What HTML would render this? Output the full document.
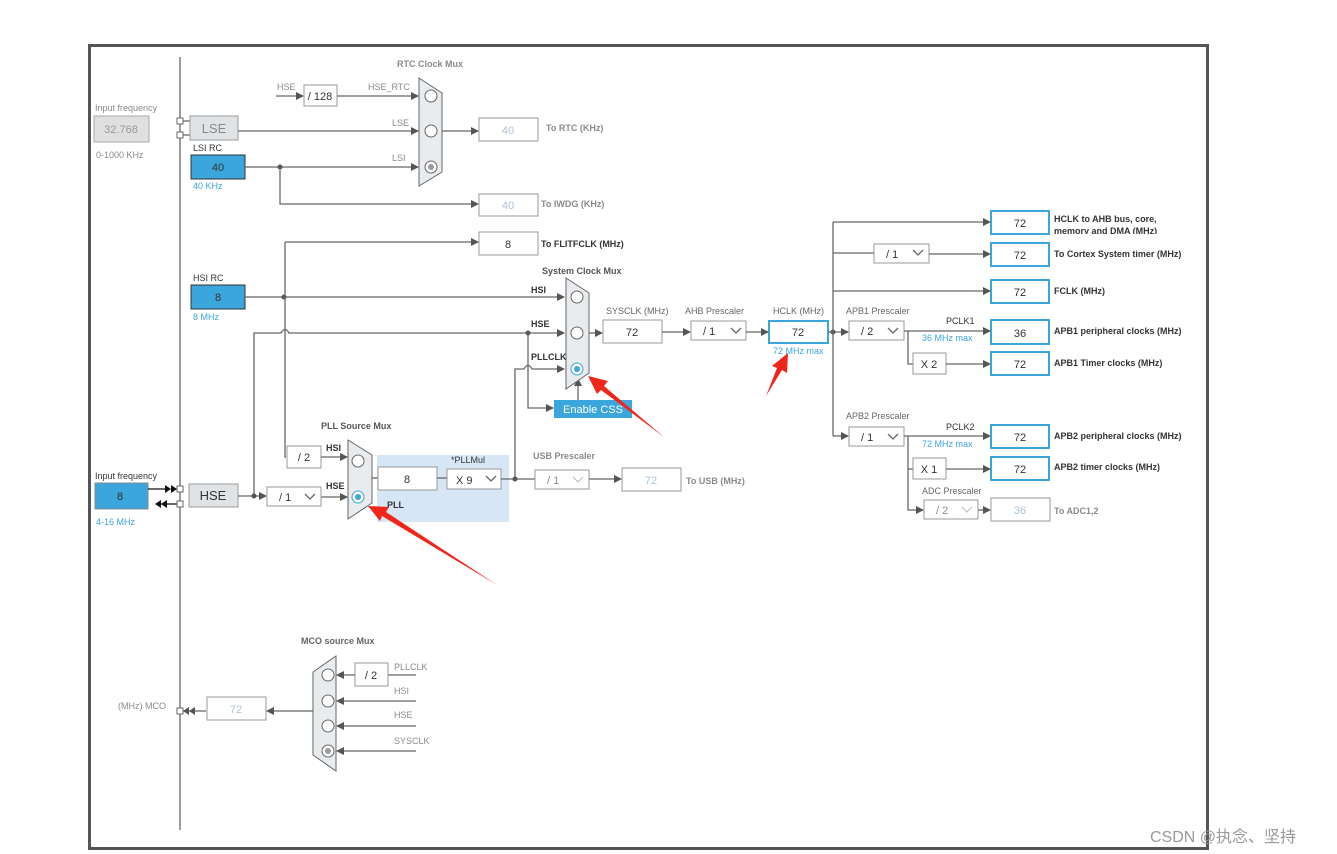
<!DOCTYPE html>
<html><head><meta charset="utf-8"><style>
html,body{margin:0;padding:0;background:#fff;}
svg{display:block;font-family:"Liberation Sans","Noto Sans CJK SC",sans-serif;}
.l{stroke:#666;stroke-width:1.3;fill:none}
.g{font-size:9px;fill:#8a8a8a}
.d{font-size:9px;fill:#333}
.b{font-size:9px;fill:#333;font-weight:bold}
.bl{font-size:9px;fill:#3aa6dc}
.box{fill:#fff;stroke:#999;stroke-width:1}
.hb{fill:#fff;stroke:#3aa6dc;stroke-width:2}
.v{font-size:11px;fill:#333;text-anchor:middle}
.vl{font-size:11px;fill:#a9c3dc;text-anchor:middle}
.mux{fill:#e8ecef;stroke:#666;stroke-width:1}
.c{fill:#fff;stroke:#666;stroke-width:1}
</style></head><body>
<svg width="1337" height="854" viewBox="0 0 1337 854">
<defs>
<marker id="a" markerWidth="8" markerHeight="8" refX="7" refY="4" orient="auto" markerUnits="userSpaceOnUse"><path d="M0,0 L8,4 L0,8 z" fill="#555"/></marker>
<clipPath id="cl"><rect x="1050" y="205" width="200" height="29"/></clipPath>
</defs>
<rect x="89.5" y="45.5" width="1118" height="803" fill="none" stroke="#555" stroke-width="3"/>
<line x1="180" y1="57" x2="180" y2="830" stroke="#666" stroke-width="1.3"/>

<text x="95" y="111" class="g">Input frequency</text>
<rect x="94" y="116" width="55" height="26" fill="#e0e0e0" stroke="#aaa"/>
<text x="121" y="133" class="v" style="fill:#999">32.768</text>
<text x="96" y="158" class="g">0-1000 KHz</text>
<rect x="177" y="118" width="6" height="6" fill="#fff" stroke="#666"/>
<rect x="177" y="132" width="6" height="6" fill="#fff" stroke="#666"/>
<line x1="183" y1="121" x2="190" y2="121" class="l"/><line x1="183" y1="135" x2="190" y2="135" class="l"/>
<rect x="190" y="116" width="48" height="24" fill="#e0e3e6" stroke="#999"/>
<text x="214" y="133" class="v" style="font-size:13px;fill:#888">LSE</text>
<text x="193" y="151" class="d">LSI RC</text>
<rect x="191" y="155" width="54" height="24" fill="#3aa6dc" stroke="#333"/>
<text x="218" y="171" class="v">40</text>
<text x="193" y="189" class="bl">40 KHz</text>

<text x="397" y="67" class="g" style="font-weight:bold">RTC Clock Mux</text>
<text x="277" y="90" class="g">HSE</text>
<line x1="276" y1="96" x2="303" y2="96" class="l" marker-end="url(#a)"/>
<rect x="304" y="85" width="33" height="21" class="box"/>
<text x="320" y="100" class="v">/ 128</text>
<text x="368" y="90" class="g">HSE_RTC</text>
<line x1="337" y1="96" x2="418" y2="96" class="l" marker-end="url(#a)"/>
<text x="392" y="126" class="g">LSE</text>
<line x1="238" y1="131" x2="418" y2="131" class="l" marker-end="url(#a)"/>
<text x="392" y="161" class="g">LSI</text>
<line x1="245" y1="167" x2="418" y2="167" class="l" marker-end="url(#a)"/>
<circle cx="280" cy="167" r="2.5" fill="#555"/>
<polyline points="280,167 280,204 478,204" class="l" marker-end="url(#a)"/>
<polygon points="419,78 442,93 442,172 419,186" class="mux"/>
<circle cx="431" cy="96" r="6" class="c"/><circle cx="431" cy="131" r="6" class="c"/><circle cx="431" cy="167" r="6" class="c"/><circle cx="431" cy="167" r="3" fill="#999"/>
<line x1="442" y1="131" x2="478" y2="131" class="l" marker-end="url(#a)"/>
<rect x="479" y="118" width="59" height="23" class="box"/><text x="508" y="134" class="vl">40</text>
<text x="546" y="131" class="g" style="font-weight:bold">To RTC (KHz)</text>
<rect x="479" y="194" width="59" height="22" class="box"/><text x="508" y="209" class="vl">40</text>
<text x="541" y="207" class="g" style="font-weight:bold">To IWDG (KHz)</text>
<rect x="479" y="232" width="59" height="23" class="box"/><text x="508" y="248" class="v">8</text>
<text x="541" y="247" class="b">To FLITFCLK (MHz)</text>
<line x1="285" y1="242" x2="478" y2="242" class="l" marker-end="url(#a)"/>

<text x="193" y="281" class="d">HSI RC</text>
<rect x="191" y="285" width="54" height="24" fill="#3aa6dc" stroke="#333"/>
<text x="218" y="301" class="v">8</text>
<text x="193" y="320" class="bl">8 MHz</text>
<line x1="245" y1="297" x2="564" y2="297" class="l" marker-end="url(#a)"/>
<circle cx="284" cy="297" r="2.5" fill="#555"/>
<path d="M285,242 L285,457 L286,457" class="l"/>
<text x="531" y="293" class="b">HSI</text>
<path d="M254,496 L254,333 L281,333 Q285,326 289,333 L564,333" class="l" marker-end="url(#a)"/>
<circle cx="528" cy="333" r="2.5" fill="#555"/>
<text x="531" y="327" class="b">HSE</text>
<path d="M515,478 L515,369 L524,369 Q528,362 532,369 L564,369" class="l" marker-end="url(#a)"/>
<text x="531" y="360" class="b">PLLCLK</text>
<polyline points="528,333 528,408 553,408" class="l" marker-end="url(#a)"/>
<rect x="554" y="400" width="78" height="18" fill="#3aa6dc"/>
<text x="593" y="413" style="font-size:11px;fill:#fff;text-anchor:middle">Enable CSS</text>
<line x1="578" y1="400" x2="578" y2="379" class="l" marker-end="url(#a)"/>
<text x="542" y="274" class="b" style="fill:#555">System Clock Mux</text>
<polygon points="566,278 589,293 589,373 566,389" class="mux"/>
<circle cx="577" cy="297" r="6" class="c"/><circle cx="577" cy="333" r="6" class="c"/>
<circle cx="577" cy="369" r="6" fill="#fff" stroke="#3aa6dc"/><circle cx="577" cy="369" r="3" fill="#3aa6dc"/>
<line x1="589" y1="333" x2="602" y2="333" class="l" marker-end="url(#a)"/>
<text x="606" y="314" class="g" style="fill:#666">SYSCLK (MHz)</text>
<rect x="603" y="320" width="59" height="23" class="box"/><text x="632" y="336" class="v">72</text>
<line x1="662" y1="332" x2="690" y2="332" class="l" marker-end="url(#a)"/>
<text x="685" y="314" class="g" style="fill:#666">AHB Prescaler</text>
<rect x="691" y="321" width="55" height="19" class="box"/><text x="703" y="335" class="d" style="font-size:11px">/ 1</text>
<path d="M731,328 l5,5 l5,-5" class="l"/>
<line x1="746" y1="332" x2="768" y2="332" class="l" marker-end="url(#a)"/>
<text x="773" y="314" class="g" style="fill:#666">HCLK (MHz)</text>
<rect x="769" y="321" width="59" height="22" class="hb"/><text x="798" y="336" class="v">72</text>
<text x="773" y="354" class="bl">72 MHz max</text>

<line x1="828" y1="332" x2="848" y2="332" class="l" marker-end="url(#a)"/>
<circle cx="833" cy="332" r="2.5" fill="#555"/>
<line x1="833" y1="222" x2="833" y2="436" class="l"/>
<line x1="833" y1="222" x2="990" y2="222" class="l" marker-end="url(#a)"/>
<line x1="833" y1="253" x2="874" y2="253" class="l"/>
<rect x="874" y="244" width="55" height="19" class="box"/><text x="886" y="258" class="d" style="font-size:11px">/ 1</text>
<path d="M913,250 l5,5 l5,-5" class="l"/>
<line x1="929" y1="254" x2="990" y2="254" class="l" marker-end="url(#a)"/>
<line x1="833" y1="291" x2="990" y2="291" class="l" marker-end="url(#a)"/>
<line x1="833" y1="436" x2="848" y2="436" class="l" marker-end="url(#a)"/>
<text x="846" y="314" class="g" style="fill:#666">APB1 Prescaler</text>
<rect x="849" y="321" width="55" height="19" class="box"/><text x="861" y="335" class="d" style="font-size:11px">/ 2</text>
<path d="M888,328 l5,5 l5,-5" class="l"/>
<line x1="904" y1="331" x2="990" y2="331" class="l" marker-end="url(#a)"/>
<text x="946" y="324" class="d">PCLK1</text>
<text x="922" y="341" class="bl">36 MHz max</text>
<polyline points="908,331 908,364 913,364" class="l"/>
<rect x="913" y="353" width="33" height="21" class="box"/><text x="929" y="368" class="v">X 2</text>
<line x1="946" y1="364" x2="990" y2="364" class="l" marker-end="url(#a)"/>
<text x="846" y="419" class="g" style="fill:#666">APB2 Prescaler</text>
<rect x="849" y="427" width="55" height="19" class="box"/><text x="861" y="441" class="d" style="font-size:11px">/ 1</text>
<path d="M888,434 l5,5 l5,-5" class="l"/>
<line x1="904" y1="436" x2="990" y2="436" class="l" marker-end="url(#a)"/>
<text x="946" y="430" class="d">PCLK2</text>
<text x="922" y="447" class="bl">72 MHz max</text>
<polyline points="908,436 908,510 923,510" class="l" marker-end="url(#a)"/>
<line x1="908" y1="469" x2="913" y2="469" class="l"/>
<rect x="913" y="458" width="33" height="21" class="box"/><text x="929" y="473" class="v">X 1</text>
<line x1="946" y1="469" x2="990" y2="469" class="l" marker-end="url(#a)"/>
<text x="922" y="494" class="g" style="fill:#666">ADC Prescaler</text>
<rect x="924" y="500" width="54" height="19" class="box"/><text x="936" y="514" class="g" style="font-size:11px">/ 2</text>
<path d="M962,507 l5,5 l5,-5" fill="none" stroke="#bbb"/>
<line x1="978" y1="510" x2="990" y2="510" class="l" marker-end="url(#a)"/>

<rect x="991" y="211" width="58" height="23" class="hb"/><text x="1020" y="227" class="v">72</text>
<rect x="991" y="243" width="58" height="23" class="hb"/><text x="1020" y="259" class="v">72</text>
<rect x="991" y="280" width="58" height="23" class="hb"/><text x="1020" y="296" class="v">72</text>
<rect x="991" y="320" width="58" height="24" class="hb"/><text x="1020" y="337" class="v">36</text>
<rect x="991" y="352" width="58" height="23" class="hb"/><text x="1020" y="368" class="v">72</text>
<rect x="991" y="425" width="58" height="23" class="hb"/><text x="1020" y="441" class="v">72</text>
<rect x="991" y="457" width="58" height="23" class="hb"/><text x="1020" y="473" class="v">72</text>
<rect x="991" y="498" width="59" height="23" class="box"/><text x="1020" y="514" class="vl">36</text>
<text x="1054" y="222" class="b">HCLK to AHB bus, core,</text>
<text x="1054" y="234" class="b" clip-path="url(#cl)">memory and DMA (MHz)</text>
<text x="1054" y="257" class="b">To Cortex System timer (MHz)</text>
<text x="1054" y="294" class="b">FCLK (MHz)</text>
<text x="1054" y="334" class="b">APB1 peripheral clocks (MHz)</text>
<text x="1054" y="366" class="b">APB1 Timer clocks (MHz)</text>
<text x="1054" y="439" class="b">APB2 peripheral clocks (MHz)</text>
<text x="1054" y="470" class="b">APB2 timer clocks (MHz)</text>
<text x="1054" y="514" class="g" style="font-weight:bold">To ADC1,2</text>

<rect x="377" y="455" width="132" height="67" fill="#d6e6f4"/>
<text x="321" y="429" class="b" style="fill:#555">PLL Source Mux</text>
<rect x="287" y="446" width="34" height="22" class="box"/><text x="304" y="461" class="v">/ 2</text>
<text x="326" y="451" class="b">HSI</text>
<line x1="321" y1="457" x2="347" y2="457" class="l" marker-end="url(#a)"/>
<text x="326" y="489" class="b">HSE</text>
<line x1="321" y1="497" x2="347" y2="497" class="l" marker-end="url(#a)"/>
<polygon points="348,440 372,455 372,503 348,519" class="mux"/>
<circle cx="358" cy="461" r="6" class="c"/>
<circle cx="358" cy="497" r="6" fill="#fff" stroke="#3aa6dc"/><circle cx="358" cy="497" r="3" fill="#3aa6dc"/>
<text x="387" y="508" class="b">PLL</text>
<line x1="372" y1="478" x2="378" y2="478" class="l"/>
<rect x="378" y="467" width="59" height="23" class="box"/><text x="407" y="483" class="v">8</text>
<line x1="437" y1="478" x2="447" y2="478" class="l"/>
<text x="451" y="463" class="d">*PLLMul</text>
<rect x="447" y="469" width="54" height="20" class="box"/><text x="456" y="484" class="d" style="font-size:11px">X 9</text>
<path d="M486,476 l5,5 l5,-5" class="l"/>
<line x1="501" y1="479" x2="535" y2="479" class="l"/>
<circle cx="515" cy="479" r="2.5" fill="#555"/>
<text x="533" y="459" class="g" style="font-weight:bold">USB Prescaler</text>
<rect x="535" y="470" width="54" height="19" class="box"/><text x="547" y="484" class="g" style="font-size:11px">/ 1</text>
<path d="M573,477 l5,5 l5,-5" fill="none" stroke="#bbb"/>
<line x1="589" y1="479" x2="621" y2="479" class="l" marker-end="url(#a)"/>
<rect x="622" y="468" width="59" height="23" class="box"/><text x="651" y="484" class="vl">72</text>
<text x="686" y="484" class="g" style="font-weight:bold">To USB (MHz)</text>

<text x="95" y="479" class="d">Input frequency</text>
<rect x="95" y="483" width="53" height="26" fill="#3aa6dc" stroke="#888"/>
<text x="120" y="500" class="v">8</text>
<text x="96" y="525" class="bl">4-16 MHz</text>
<line x1="148" y1="489" x2="166" y2="489" stroke="#111" stroke-width="1.3"/>
<path d="M165,485 l6,4 l-6,4z M171,485 l6,4 l-6,4z" fill="#111"/>
<line x1="158" y1="504" x2="177" y2="504" stroke="#111" stroke-width="1.3"/>
<path d="M155,504 l6,-4 l0,8z M161,504 l6,-4 l0,8z" fill="#111"/>
<rect x="177" y="486" width="6" height="6" fill="#fff" stroke="#666"/>
<rect x="177" y="501" width="6" height="6" fill="#fff" stroke="#666"/>
<rect x="189" y="484" width="49" height="23" fill="#e0e3e6" stroke="#999"/>
<text x="213" y="500" class="v" style="font-size:13px">HSE</text>
<line x1="238" y1="496" x2="266" y2="496" class="l" marker-end="url(#a)"/>
<circle cx="254" cy="496" r="2.5" fill="#555"/>
<rect x="267" y="487" width="54" height="19" class="box"/><text x="279" y="501" class="d" style="font-size:11px">/ 1</text>
<path d="M305,494 l5,5 l5,-5" class="l"/>

<text x="301" y="644" class="b" style="fill:#666">MCO source Mux</text>
<polygon points="313,672 336,656 336,771 313,755" class="mux"/>
<circle cx="328" cy="675" r="6" class="c"/><circle cx="328" cy="701" r="6" class="c"/><circle cx="328" cy="726" r="6" class="c"/><circle cx="328" cy="751" r="6" class="c"/><circle cx="328" cy="751" r="3" fill="#999"/>
<rect x="355" y="663" width="33" height="23" class="box"/><text x="371" y="679" class="v">/ 2</text>
<line x1="416" y1="675" x2="388" y2="675" class="l"/>
<line x1="355" y1="675" x2="337" y2="675" class="l" marker-end="url(#a)"/>
<text x="394" y="670" class="g">PLLCLK</text>
<line x1="416" y1="701" x2="337" y2="701" class="l" marker-end="url(#a)"/>
<text x="394" y="694" class="g">HSI</text>
<line x1="416" y1="726" x2="337" y2="726" class="l" marker-end="url(#a)"/>
<text x="394" y="718" class="g">HSE</text>
<line x1="416" y1="751" x2="337" y2="751" class="l" marker-end="url(#a)"/>
<text x="394" y="744" class="g">SYSCLK</text>
<line x1="313" y1="711" x2="267" y2="711" class="l" marker-end="url(#a)"/>
<rect x="207" y="697" width="59" height="23" class="box"/><text x="236" y="713" class="vl">72</text>
<line x1="206" y1="711" x2="183" y2="711" class="l"/>
<path d="M183,711 l6,-4 l0,8z M189,711 l6,-4 l0,8z" fill="#555"/>
<rect x="177" y="708" width="6" height="6" fill="#fff" stroke="#666"/>
<text x="118" y="709" class="g">(MHz) MCO</text>

<polygon points="588,376 608,381 604,386 664,437 601,390 597,394" fill="#f0261b"/>
<polygon points="368,506 389,507 386,512 497,585 382,516 380,521" fill="#f0261b"/>
<polygon points="788,353 787,373 782,370 766,396 777,368 772,366" fill="#f0261b"/>

<text x="1150" y="842" style="font-size:16px;fill:#999">CSDN @执念、坚持</text>
</svg>
</body></html>
